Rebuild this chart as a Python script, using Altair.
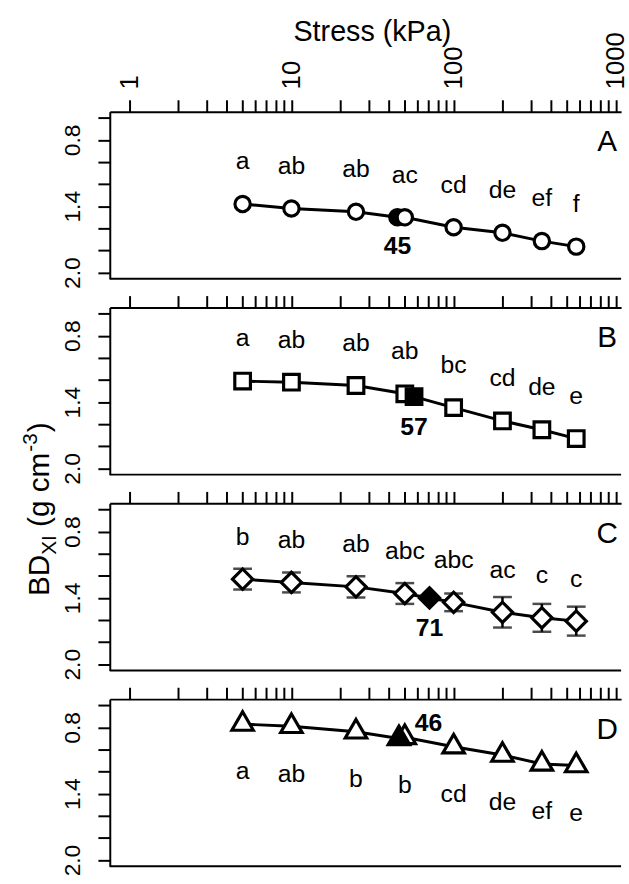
import altair as alt
import pandas as pd

# Applied stress steps (kPa)
stress = [5, 10, 25, 50, 100, 200, 350, 570]

# Bulk density at each stress step (g cm-3), one series per panel
bd_a = [1.38, 1.42, 1.45, 1.50, 1.59, 1.64, 1.715, 1.765]
bd_b = [1.21, 1.22, 1.25, 1.325, 1.45, 1.57, 1.65, 1.73]
bd_c = [1.23, 1.26, 1.30, 1.36, 1.44, 1.53, 1.58, 1.61]
bd_d = [0.77, 0.79, 0.84, 0.89, 0.975, 1.05, 1.13, 1.145]

# Error bar half-widths for panel C (g cm-3)
err_c = [0.094, 0.09, 0.097, 0.094, 0.08, 0.138, 0.126, 0.131]

# Significance letters per stress step
letters_a = ["a", "ab", "ab", "ac", "cd", "de", "ef", "f"]
letters_b = ["a", "ab", "ab", "ab", "bc", "cd", "de", "e"]
letters_c = ["b", "ab", "ab", "abc", "abc", "ac", "c", "c"]
letters_d = ["a", "ab", "b", "b", "cd", "de", "ef", "e"]

# Precompression stress (kPa) and the density at that stress
pc_stress = [45, 57, 71, 46]
pc_bd = [1.50, 1.35, 1.40, 0.90]

panel_ids = ["A", "B", "C", "D"]

# y ticks and the ones that carry a label
y_ticks = [0.6, 0.8, 1.0, 1.2, 1.4, 1.6, 1.8, 2.0]
y_labelled = [0.8, 1.4, 2.0]

# x ticks (log decades with minor ticks)
x_ticks = [m * 10 ** e for e in range(3) for m in range(1, 10)] + [1000]
x_labelled = [1, 10, 100, 1000]

FONT = "Liberation Sans"
W = 517           # plot width (px)
H = 169           # panel height (px)
PX_PER_DECADE = 164.0
X_MIN = 10 ** -0.12
X_MAX = 10 ** (-0.12 + W / PX_PER_DECADE)

xscale = alt.Scale(type="log", domain=[X_MIN, X_MAX], nice=False)
yscale = alt.Scale(domain=[0.544, 2.056], reverse=True, nice=False, zero=False)

y_label_expr = " || ".join(f"abs(datum.value - {v}) < 0.01" for v in y_labelled)
y_label_expr = f"({y_label_expr}) ? format(datum.value, '.1f') : ''"
x_label_expr = " || ".join(f"datum.value == {v}" for v in x_labelled)
x_label_expr = f"({x_label_expr}) ? format(datum.value, 'd') : ''"


def x_axis(show_labels):
    kw = dict(orient="top", values=x_ticks, tickSize=12, tickWidth=2,
              domainWidth=2, domainColor="black", tickColor="black",
              grid=False, labelOverlap=False, labelFlush=False)
    if show_labels:
        kw.update(labelExpr=x_label_expr, labelAngle=270, labelAlign="left",
                  labelBaseline="middle", labelPadding=11, labelFontSize=26,
                  labelFont=FONT, labelColor="black",
                  title="Stress (kPa)", titleFont=FONT, titleFontSize=29,
                  titleFontWeight="normal", titleColor="black",
                  titleX=265, titleY=-72, titleAlign="center",
                  titleBaseline="alphabetic", titleAngle=0)
    else:
        kw.update(labels=False, title=None)
    return alt.Axis(**kw)


y_axis = alt.Axis(orient="left", values=y_ticks, tickSize=12, tickWidth=2,
                  domainWidth=2, domainColor="black", tickColor="black",
                  labelExpr=y_label_expr, labelAngle=270, labelAlign="center",
                  labelBaseline="alphabetic", labelPadding=19, labelFontSize=23,
                  labelFont=FONT, labelColor="black", labelOverlap=False,
                  labelFlush=False, title=None, grid=False)

# Arial-like advance widths (em) for laying out the composite y title
ADV = {"B": .667, "D": .722, "X": .667, "I": .278, " ": .278, "(": .333,
       "g": .556, "c": .5, "m": .833, "-": .333, "3": .556, ")": .333}


def text_width(s, size):
    return sum(ADV.get(ch, .556) for ch in s) * size


def y_title_layers(center_y, baseline_x, size=30, small=21):
    # (text, font size, baseline shift, gap before the piece)
    pieces = [("BD", size, 0, 0), ("XI", small, 7, 0),
              ("(g cm", size, 0, 0.278 * size), ("-3", small, -13, 1),
              (")", size, 0, 1)]
    total = sum(text_width(t, s) + g for t, s, _, g in pieces)
    pos = center_y + total / 2
    layers = []
    for t, s, shift, gap in pieces:
        pos -= gap
        layers.append(
            alt.Chart(pd.DataFrame({"t": [t]}))
            .mark_text(angle=270, align="left", baseline="alphabetic",
                       font=FONT, fontSize=s, color="black")
            .encode(x=alt.value(baseline_x + shift), y=alt.value(pos),
                    text="t:N")
        )
        pos -= text_width(t, s)
    return layers


def panel(i, bd, letters, shape, size, letter_dy, num_dx, num_dy,
          filled_on_top, err=None, extra=None):
    pid = panel_ids[i]
    df = pd.DataFrame({"stress": stress, "bd": bd, "letter": letters})
    pc = pd.DataFrame({"stress": [pc_stress[i]], "bd": [pc_bd[i]],
                       "label": [str(pc_stress[i])]})
    line_df = pd.concat([df[["stress", "bd"]], pc[["stress", "bd"]]])

    xa = x_axis(i == 0)
    x = alt.X("stress:Q", scale=xscale, axis=xa)
    y = alt.Y("bd:Q", scale=yscale, axis=y_axis)

    line = alt.Chart(line_df).mark_line(color="black", strokeWidth=3).encode(
        x=x, y=y)

    open_pts = alt.Chart(df).mark_point(
        shape=shape, size=size, filled=True, fill="white", stroke="black",
        strokeWidth=3.2, opacity=1).encode(x=x, y=y)
    pc_pt = alt.Chart(pc).mark_point(
        shape=shape, size=size, filled=True, fill="black", stroke="black",
        strokeWidth=3.2, opacity=1).encode(x=x, y=y)

    letters_txt = alt.Chart(df).mark_text(
        font=FONT, fontSize=25, baseline="alphabetic", dy=letter_dy,
        color="black").encode(x=x, y=y, text="letter:N")
    num_txt = alt.Chart(pc).mark_text(
        font=FONT, fontSize=25, fontWeight="bold", baseline="middle",
        dx=num_dx, dy=num_dy, color="black").encode(x=x, y=y,
                                                    text="label:N")

    panel_tag = alt.Chart(pd.DataFrame({"p": [pid]})).mark_text(
        font=FONT, fontSize=30, baseline="middle", color="black").encode(
        x=alt.value(503), y=alt.value(31), text="p:N")

    frame_bottom = alt.Chart(pd.DataFrame({"k": [0]})).mark_rule(
        color="black", strokeWidth=2).encode(
        x=alt.value(0), x2=alt.value(W), y=alt.value(H))

    layers = [line]
    if err is not None:
        edf = pd.DataFrame({"stress": stress,
                            "bd": [b - e for b, e in zip(bd, err)],
                            "hi": [b + e for b, e in zip(bd, err)]})
        layers.append(alt.Chart(edf).mark_rule(color="black", strokeWidth=2.5)
                      .encode(x=x, y=y, y2="hi:Q"))
        layers.append(alt.Chart(edf).mark_tick(color="black", thickness=2.5,
                                               size=19, orient="horizontal")
                      .encode(x=x, y=y))
        layers.append(alt.Chart(edf).mark_tick(color="black", thickness=2.5,
                                               size=19, orient="horizontal")
                      .encode(x=x, y=alt.Y("hi:Q", scale=yscale,
                                           axis=y_axis)))
    if filled_on_top:
        layers += [open_pts, pc_pt]
    else:
        layers += [pc_pt, open_pts]
    layers += [letters_txt, num_txt, panel_tag, frame_bottom]
    if extra:
        layers += extra
    return alt.layer(*layers).properties(width=W, height=H)


# Triangle with its centroid on the data point
TRIANGLE = "M0,-1.155L1,0.577L-1,0.577Z"

anchor = alt.Chart(pd.DataFrame({"k": [0]})).mark_rect(color="white").encode(
    x=alt.value(-111), x2=alt.value(-110), y=alt.value(-108), y2=alt.value(-107))

p_a = panel(0, bd_a, letters_a, "circle", 240, -35, 0, 29, False,
            extra=[anchor])
p_b = panel(1, bd_b, letters_b, "square", 250, -35, 0, 31, True)
p_c = panel(2, bd_c, letters_c, "diamond", 420, -35, 0, 30, True, err=err_c,
            extra=y_title_layers(6, -61))
p_d = panel(3, bd_d, letters_d, TRIANGLE, 470, 56, 30, -16, True)

chart = (
    alt.vconcat(p_a, p_b, p_c, p_d, spacing=29, bounds="flush")
    .properties(padding={"left": 0, "top": 0, "right": 0, "bottom": 0},
                background="white")
    .configure_view(stroke=None)
)

chart.save("out.html", embed_options={"renderer": "svg", "actions": False})
